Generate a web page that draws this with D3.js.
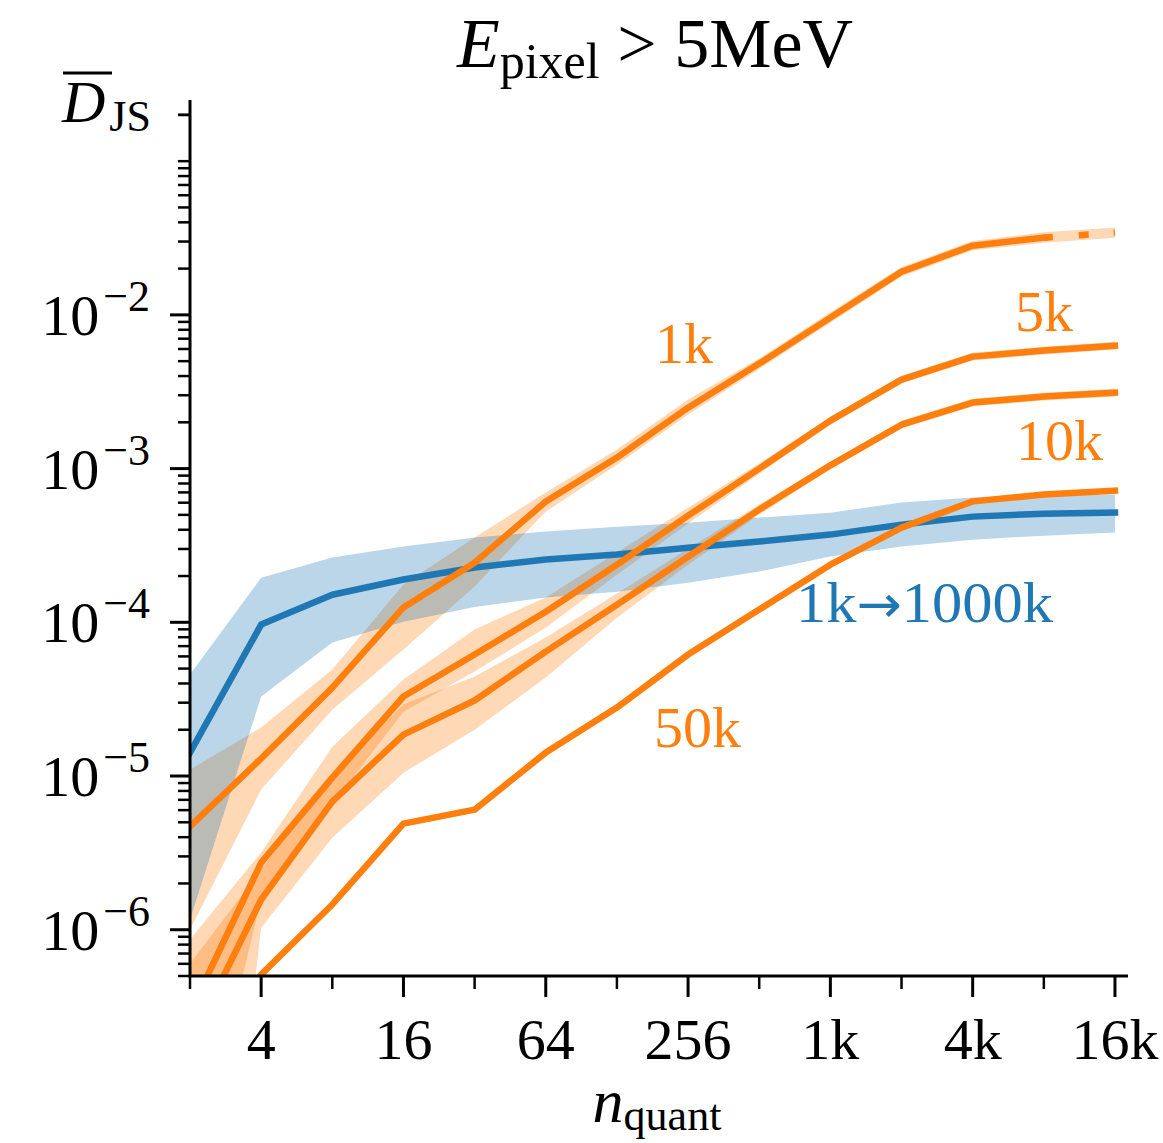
<!DOCTYPE html>
<html>
<head>
<meta charset="utf-8">
<script src="https://cdn.jsdelivr.net/npm/d3@7"></script>
<style>
  body { margin: 0; background: #fff; }
  svg text { font-family: "Liberation Serif", "DejaVu Serif", serif; }
</style>
</head>
<body>
<div id="chart"></div>
<script>
// n_quant on the x axis
var nQuant = [2, 4, 8, 16, 32, 64, 128, 256, 512, 1024, 2048, 4096, 8192, 16384];

// mean D_JS and band edges
var blueMean  = [1.42e-5, 9.66e-5, 1.51e-4, 1.90e-4, 2.27e-4, 2.56e-4, 2.76e-4, 3.06e-4, 3.35e-4, 3.72e-4, 4.32e-4, 4.87e-4, 5.09e-4, 5.17e-4];
var blueHigh  = [4.57e-5, 1.95e-4, 2.64e-4, 3.11e-4, 3.56e-4, 3.89e-4, 4.19e-4, 4.45e-4, 4.80e-4, 5.17e-4, 6.01e-4, 6.48e-4, 6.67e-4, 6.78e-4];
var blueLow   = [1.16e-6, 3.29e-5, 7.38e-5, 1.01e-4, 1.26e-4, 1.45e-4, 1.58e-4, 1.81e-4, 2.14e-4, 2.68e-4, 3.11e-4, 3.45e-4, 3.66e-4, 3.84e-4];

var k1Mean  = [4.69e-6, 1.30e-5, 3.76e-5, 1.25e-4, 2.44e-4, 6.10e-4, 1.18e-3, 2.49e-3, 4.82e-3, 9.6e-3, 1.91e-2, 2.82e-2, 3.18e-2, 3.43e-2];
var k1High  = [1.10e-5, 2.07e-5, 4.93e-5, 1.76e-4, 3.56e-4, 6.98e-4, 1.33e-3, 2.81e-3, 5.2e-3, 1.04e-2, 2.05e-2, 3.02e-2, 3.45e-2, 3.7e-2];
var k1Low   = [1.00e-6, 8.17e-6, 2.70e-5, 6.65e-5, 1.71e-4, 5.25e-4, 1.06e-3, 2.25e-3, 4.45e-3, 8.9e-3, 1.78e-2, 2.63e-2, 2.95e-2, 3.18e-2];

var k5Mean  = [2.9e-7, 2.73e-6, 9.77e-6, 3.29e-5, 6.17e-5, 1.17e-4, 2.37e-4, 4.94e-4, 1.00e-3, 2.05e-3, 3.79e-3, 5.35e-3, 5.86e-3, 6.31e-3];
var k5High  = [8.63e-7, 3.18e-6, 1.55e-5, 4.24e-5, 8.97e-5, 1.45e-4, 2.84e-4, 5.57e-4, 1.08e-3, 2.17e-3, 4.02e-3, 5.67e-3, 6.21e-3, 6.69e-3];
var k5Low   = [2e-8, 1.57e-6, 6.52e-6, 2.62e-5, 4.78e-5, 9.24e-5, 2.04e-4, 4.39e-4, 9.27e-4, 1.93e-3, 3.58e-3, 5.05e-3, 5.53e-3, 5.95e-3];

var k10Mean = [1.8e-7, 1.57e-6, 6.82e-6, 1.86e-5, 3.10e-5, 6.45e-5, 1.30e-4, 2.67e-4, 5.41e-4, 1.05e-3, 1.93e-3, 2.69e-3, 2.94e-3, 3.12e-3];
var k10High = [6e-7, 2.46e-6, 1.02e-5, 2.92e-5, 4.44e-5, 7.96e-5, 1.54e-4, 3.01e-4, 5.83e-4, 1.11e-3, 2.05e-3, 2.85e-3, 3.12e-3, 3.31e-3];
var k10Low  = [1e-10, 1.03e-6, 3.97e-6, 1.05e-5, 2.00e-5, 4.37e-5, 1.07e-4, 2.37e-4, 5.02e-4, 9.9e-4, 1.82e-3, 2.54e-3, 2.77e-3, 2.94e-3];

var k50Mean = [1.2e-7, 5.11e-7, 1.46e-6, 4.90e-6, 6.04e-6, 1.42e-5, 2.79e-5, 6.17e-5, 1.21e-4, 2.37e-4, 4.13e-4, 6.12e-4, 6.78e-4, 7.19e-4];
var k50High = [1.3e-7, 5.4e-7, 1.53e-6, 5.1e-6, 6.3e-6, 1.48e-5, 2.9e-5, 6.4e-5, 1.26e-4, 2.46e-4, 4.3e-4, 6.36e-4, 7.05e-4, 7.47e-4];
var k50Low  = [1.1e-7, 4.8e-7, 1.39e-6, 4.7e-6, 5.8e-6, 1.36e-5, 2.68e-5, 5.9e-5, 1.16e-4, 2.28e-4, 3.97e-4, 5.88e-4, 6.51e-4, 6.91e-4];

// ticks
var xMajor = [4, 16, 64, 256, 1024, 4096, 16384];
var xMajorLabels = ["4", "16", "64", "256", "1k", "4k", "16k"];
var xMinor = [2, 8, 32, 128, 512, 2048, 8192];
var yExponents = [-6, -5, -4, -3, -2];

var blue = "#1f77b4", orange = "#ff7f0e";

var W = 1163, H = 1143;
var plot = {left: 190, right: 1128, top: 100, bottom: 976};

var svg = d3.select("#chart").append("svg")
  .attr("width", W).attr("height", H);

var x = d3.scaleLog().base(2).domain([2, 18600]).range([plot.left, plot.right]);
var y = d3.scaleLog().domain([5e-7, 0.25]).range([plot.bottom, plot.top]);

svg.append("clipPath").attr("id", "clip")
  .append("rect")
  .attr("x", plot.left).attr("y", plot.top)
  .attr("width", plot.right - plot.left).attr("height", plot.bottom - plot.top);

var g = svg.append("g").attr("clip-path", "url(#clip)");

function rows(mean, lo, hi) {
  return nQuant.map(function(n, i) { return {n: n, m: mean[i], lo: lo[i], hi: hi[i]}; });
}

var area = d3.area()
  .x(function(d) { return x(d.n); })
  .y0(function(d) { return y(d.lo); })
  .y1(function(d) { return y(d.hi); });

var line = d3.line()
  .x(function(d) { return x(d.n); })
  .y(function(d) { return y(d.m); });

var orangeSets = [
  rows(k1Mean, k1Low, k1High),
  rows(k5Mean, k5Low, k5High),
  rows(k10Mean, k10Low, k10High),
  rows(k50Mean, k50Low, k50High)
];
var blueSet = rows(blueMean, blueLow, blueHigh);

// bands
orangeSets.forEach(function(s) {
  g.append("path").attr("d", area(s))
    .attr("fill", orange).attr("fill-opacity", 0.3);
});
g.append("path").attr("d", area(blueSet))
  .attr("fill", blue).attr("fill-opacity", 0.3);

// lines
var lw = 6.5;
g.append("path").attr("d", line(blueSet))
  .attr("fill", "none").attr("stroke", blue).attr("stroke-width", lw)
  .attr("stroke-linecap", "square").attr("stroke-linejoin", "round");

orangeSets.forEach(function(s, i) {
  var pts = i === 0 ? s.slice(0, 13) : s;
  g.append("path").attr("d", line(pts))
    .attr("fill", "none").attr("stroke", orange).attr("stroke-width", lw)
    .attr("stroke-linecap", "square").attr("stroke-linejoin", "round");
});
// last bit of the 1k curve is broken up in the original
g.append("path").attr("d", line(orangeSets[0].slice(12)))
  .attr("fill", "none").attr("stroke", orange).attr("stroke-width", lw)
  .attr("stroke-dasharray", "9 26 10 25 3 100");

// axes
var ax = svg.append("g").attr("stroke", "#000");
ax.append("line").attr("x1", plot.left).attr("x2", plot.left)
  .attr("y1", plot.top).attr("y2", plot.bottom + 1.5).attr("stroke-width", 3);
ax.append("line").attr("x1", plot.left - 1.5).attr("x2", plot.right)
  .attr("y1", plot.bottom).attr("y2", plot.bottom).attr("stroke-width", 3);

xMajor.forEach(function(v) {
  ax.append("line").attr("x1", x(v)).attr("x2", x(v))
    .attr("y1", plot.bottom).attr("y2", plot.bottom + 21).attr("stroke-width", 3);
});
xMinor.forEach(function(v) {
  ax.append("line").attr("x1", x(v)).attr("x2", x(v))
    .attr("y1", plot.bottom).attr("y2", plot.bottom + 13).attr("stroke-width", 2.5);
});

var yMinor = [];
for (var e = -7; e <= -1; e++) {
  for (var k = 1; k <= 9; k++) {
    var v = k * Math.pow(10, e);
    if (k === 1 && e !== -1) continue;
    if (v >= 5e-7 && v <= 0.25) yMinor.push(v);
  }
}
yMinor.push(0.2);
yMinor.forEach(function(v) {
  ax.append("line").attr("x1", plot.left - 12).attr("x2", plot.left)
    .attr("y1", y(v)).attr("y2", y(v)).attr("stroke-width", 2.5);
});
yExponents.forEach(function(e) {
  ax.append("line").attr("x1", plot.left - 20).attr("x2", plot.left)
    .attr("y1", y(Math.pow(10, e))).attr("y2", y(Math.pow(10, e))).attr("stroke-width", 3);
});

// tick labels
xMajor.forEach(function(v, i) {
  svg.append("text").attr("x", x(v)).attr("y", 1059)
    .attr("text-anchor", "middle").attr("font-size", 58)
    .text(xMajorLabels[i]);
});
yExponents.forEach(function(e) {
  var t = svg.append("text").attr("x", 150).attr("y", y(Math.pow(10, e)) + 20)
    .attr("text-anchor", "end").attr("font-size", 58);
  t.append("tspan").text("10");
  t.append("tspan").attr("font-size", 44).attr("dy", -24).attr("dx", 4).text("\u2212" + (-e));
});

// title
var title = svg.append("text").attr("x", 655).attr("y", 67)
  .attr("text-anchor", "middle").attr("font-size", 70);
title.append("tspan").attr("font-style", "italic").text("E");
title.append("tspan").attr("font-size", 50).attr("dy", 11).text("pixel");
title.append("tspan").attr("dy", -11).text(" > 5MeV");

// y label
var yl = svg.append("text").attr("x", 62).attr("y", 122).attr("font-size", 60);
yl.append("tspan").attr("font-style", "italic").text("D");
yl.append("tspan").attr("font-size", 44).attr("dy", 9).attr("dx", 4).text("JS");
svg.append("line").attr("x1", 63).attr("x2", 112).attr("y1", 73).attr("y2", 73)
  .attr("stroke", "#000").attr("stroke-width", 3);

// x label
var xl = svg.append("text").attr("x", 657).attr("y", 1122)
  .attr("text-anchor", "middle").attr("font-size", 62);
xl.append("tspan").attr("font-style", "italic").text("n");
xl.append("tspan").attr("font-size", 44).attr("dy", 8).text("quant");

// curve labels
var notes = [
  {t: "1k", x: 655, y: 363, c: orange},
  {t: "5k", x: 1015, y: 331, c: orange},
  {t: "10k", x: 1016, y: 460, c: orange},
  {t: "50k", x: 654, y: 747, c: orange}
];
notes.forEach(function(d) {
  svg.append("text").attr("x", d.x).attr("y", d.y)
    .attr("font-size", 58).attr("fill", d.c).text(d.t);
});
var blueNote = svg.append("text").attr("x", 796).attr("y", 622)
  .attr("font-size", 58).attr("fill", blue)
  .attr("textLength", 257).attr("lengthAdjust", "spacingAndGlyphs");
blueNote.append("tspan").text("1k");
blueNote.append("tspan").style("font-family", "DejaVu Sans").attr("font-size", 52).text("\u2192");
blueNote.append("tspan").text("1000k");
</script>
</body>
</html>
